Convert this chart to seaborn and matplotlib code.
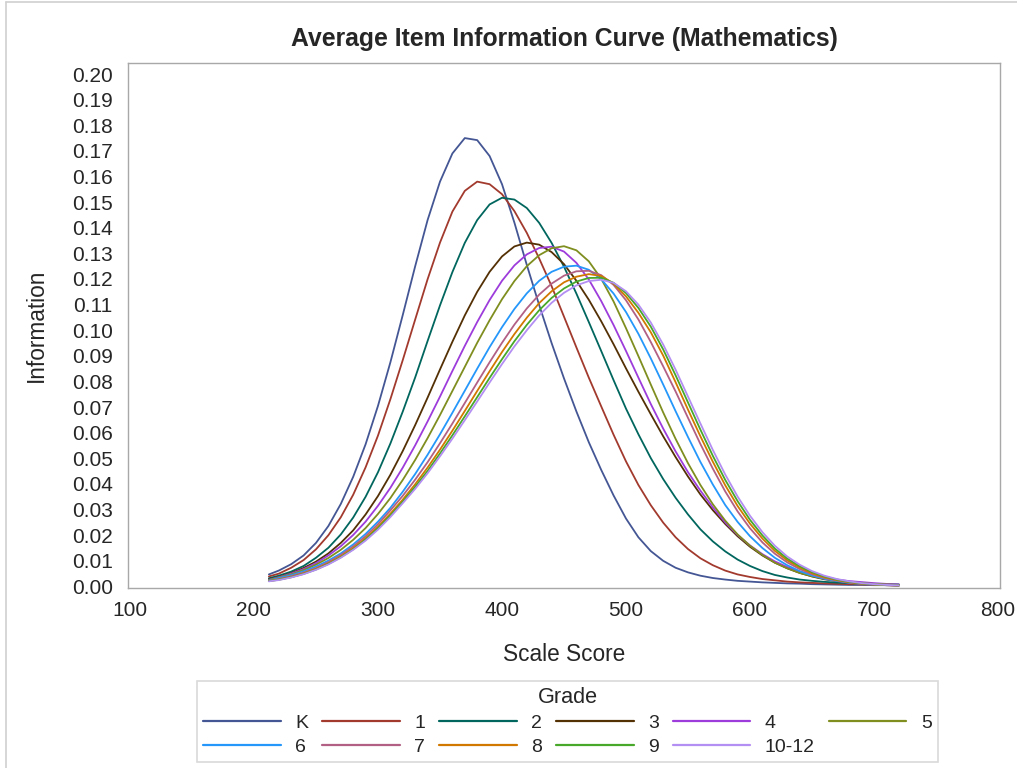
import pandas as pd
import seaborn as sns
import matplotlib.pyplot as plt
from matplotlib.lines import Line2D

# scale score grid
score = [212, 220, 230, 240, 250, 260, 270, 280, 290, 300,
         310, 320, 330, 340, 350, 360, 370, 380, 390, 400,
         410, 420, 430, 440, 450, 460, 470, 480, 490, 500,
         510, 520, 530, 540, 550, 560, 570, 580, 590, 600,
         610, 620, 630, 640, 650, 660, 670, 680, 690, 700,
         710, 720]

grades = ['K', '1', '2', '3', '4', '5', '6', '7', '8', '9', '10-12']

info_k = [0.0047, 0.0062, 0.0087, 0.0121, 0.0170, 0.0236, 0.0322, 0.0428, 0.0555, 0.0705,
          0.0875, 0.1060, 0.1250, 0.1430, 0.1580, 0.1690, 0.1750, 0.1742, 0.1680, 0.1570,
          0.1420, 0.1255, 0.1098, 0.0950, 0.0812, 0.0683, 0.0563, 0.0455, 0.0355, 0.0265,
          0.0192, 0.0138, 0.0100, 0.0073, 0.0055, 0.0042, 0.0033, 0.0027, 0.0022, 0.0019,
          0.0016, 0.0014, 0.0012, 0.0011, 0.0009, 0.0008, 0.0007, 0.0006, 0.0006, 0.0005,
          0.0005, 0.0004]
info_1 = [0.0039, 0.0050, 0.0073, 0.0103, 0.0145, 0.0200, 0.0270, 0.0358, 0.0465, 0.0589,
          0.0731, 0.0884, 0.1042, 0.1199, 0.1342, 0.1463, 0.1544, 0.1580, 0.1570, 0.1531,
          0.1465, 0.1380, 0.1280, 0.1172, 0.1053, 0.0933, 0.0815, 0.0703, 0.0592, 0.0488,
          0.0396, 0.0317, 0.0249, 0.0192, 0.0146, 0.0110, 0.0083, 0.0062, 0.0047, 0.0037,
          0.0029, 0.0024, 0.0019, 0.0016, 0.0014, 0.0012, 0.0010, 0.0009, 0.0008, 0.0007,
          0.0006, 0.0005]
info_2 = [0.0032, 0.0042, 0.0058, 0.0080, 0.0112, 0.0151, 0.0203, 0.0269, 0.0350, 0.0446,
          0.0558, 0.0683, 0.0816, 0.0958, 0.1097, 0.1227, 0.1341, 0.1430, 0.1491, 0.1517,
          0.1510, 0.1477, 0.1419, 0.1341, 0.1248, 0.1143, 0.1032, 0.0919, 0.0805, 0.0694,
          0.0594, 0.0501, 0.0419, 0.0346, 0.0281, 0.0223, 0.0176, 0.0137, 0.0105, 0.0080,
          0.0060, 0.0045, 0.0035, 0.0027, 0.0022, 0.0018, 0.0015, 0.0013, 0.0011, 0.0010,
          0.0009, 0.0008]
info_3 = [0.0028, 0.0037, 0.0052, 0.0072, 0.0097, 0.0129, 0.0170, 0.0219, 0.0281, 0.0353,
          0.0436, 0.0529, 0.0630, 0.0737, 0.0847, 0.0955, 0.1058, 0.1150, 0.1228, 0.1288,
          0.1327, 0.1342, 0.1334, 0.1305, 0.1258, 0.1193, 0.1119, 0.1035, 0.0945, 0.0851,
          0.0760, 0.0672, 0.0586, 0.0505, 0.0429, 0.0359, 0.0298, 0.0244, 0.0196, 0.0155,
          0.0121, 0.0093, 0.0071, 0.0053, 0.0039, 0.0028, 0.0021, 0.0015, 0.0011, 0.0008,
          0.0006, 0.0004]
info_4 = [0.0026, 0.0036, 0.0050, 0.0068, 0.0091, 0.0121, 0.0157, 0.0201, 0.0253, 0.0315,
          0.0385, 0.0464, 0.0551, 0.0644, 0.0741, 0.0841, 0.0939, 0.1032, 0.1118, 0.1193,
          0.1253, 0.1296, 0.1321, 0.1326, 0.1307, 0.1263, 0.1198, 0.1114, 0.1020, 0.0919,
          0.0815, 0.0712, 0.0616, 0.0527, 0.0446, 0.0374, 0.0309, 0.0250, 0.0201, 0.0160,
          0.0126, 0.0098, 0.0076, 0.0058, 0.0045, 0.0035, 0.0027, 0.0021, 0.0017, 0.0013,
          0.0010, 0.0008]
info_5 = [0.0025, 0.0035, 0.0047, 0.0064, 0.0085, 0.0111, 0.0143, 0.0182, 0.0228, 0.0283,
          0.0345, 0.0416, 0.0494, 0.0579, 0.0669, 0.0763, 0.0857, 0.0951, 0.1039, 0.1121,
          0.1192, 0.1250, 0.1293, 0.1320, 0.1328, 0.1312, 0.1269, 0.1201, 0.1112, 0.1008,
          0.0899, 0.0788, 0.0679, 0.0576, 0.0481, 0.0396, 0.0321, 0.0257, 0.0203, 0.0159,
          0.0123, 0.0093, 0.0071, 0.0053, 0.0040, 0.0030, 0.0023, 0.0017, 0.0013, 0.0010,
          0.0008, 0.0006]
info_6 = [0.0023, 0.0033, 0.0044, 0.0059, 0.0078, 0.0101, 0.0129, 0.0164, 0.0205, 0.0253,
          0.0307, 0.0370, 0.0439, 0.0514, 0.0594, 0.0678, 0.0764, 0.0850, 0.0934, 0.1012,
          0.1083, 0.1144, 0.1193, 0.1228, 0.1248, 0.1252, 0.1236, 0.1199, 0.1143, 0.1071,
          0.0986, 0.0890, 0.0788, 0.0684, 0.0583, 0.0486, 0.0398, 0.0318, 0.0252, 0.0196,
          0.0150, 0.0112, 0.0083, 0.0060, 0.0043, 0.0030, 0.0021, 0.0014, 0.0010, 0.0007,
          0.0005, 0.0004]
info_7 = [0.0022, 0.0029, 0.0040, 0.0054, 0.0072, 0.0095, 0.0123, 0.0156, 0.0196, 0.0243,
          0.0297, 0.0354, 0.0417, 0.0485, 0.0559, 0.0636, 0.0716, 0.0796, 0.0875, 0.0951,
          0.1022, 0.1085, 0.1139, 0.1182, 0.1213, 0.1230, 0.1232, 0.1215, 0.1177, 0.1117,
          0.1042, 0.0954, 0.0859, 0.0761, 0.0658, 0.0556, 0.0460, 0.0371, 0.0293, 0.0227,
          0.0172, 0.0128, 0.0094, 0.0068, 0.0048, 0.0033, 0.0023, 0.0015, 0.0010, 0.0007,
          0.0005, 0.0003]
info_8 = [0.0021, 0.0027, 0.0037, 0.0051, 0.0068, 0.0090, 0.0117, 0.0149, 0.0188, 0.0233,
          0.0284, 0.0339, 0.0399, 0.0464, 0.0534, 0.0608, 0.0685, 0.0763, 0.0840, 0.0915,
          0.0985, 0.1049, 0.1106, 0.1152, 0.1187, 0.1209, 0.1219, 0.1212, 0.1182, 0.1132,
          0.1068, 0.0992, 0.0901, 0.0797, 0.0690, 0.0586, 0.0487, 0.0395, 0.0314, 0.0245,
          0.0187, 0.0139, 0.0102, 0.0074, 0.0052, 0.0036, 0.0025, 0.0017, 0.0011, 0.0008,
          0.0005, 0.0004]
info_9 = [0.0021, 0.0026, 0.0036, 0.0049, 0.0066, 0.0088, 0.0114, 0.0145, 0.0183, 0.0227,
          0.0277, 0.0331, 0.0389, 0.0451, 0.0519, 0.0590, 0.0664, 0.0739, 0.0814, 0.0887,
          0.0957, 0.1021, 0.1078, 0.1126, 0.1163, 0.1190, 0.1204, 0.1205, 0.1185, 0.1145,
          0.1087, 0.1014, 0.0925, 0.0824, 0.0718, 0.0612, 0.0510, 0.0416, 0.0333, 0.0260,
          0.0199, 0.0148, 0.0109, 0.0079, 0.0056, 0.0039, 0.0027, 0.0018, 0.0012, 0.0008,
          0.0006, 0.0004]
info_10_12 = [0.0020, 0.0025, 0.0035, 0.0048, 0.0065, 0.0086, 0.0112, 0.0143, 0.0179, 0.0222,
              0.0271, 0.0325, 0.0381, 0.0442, 0.0508, 0.0577, 0.0649, 0.0722, 0.0796, 0.0868,
              0.0937, 0.1000, 0.1058, 0.1107, 0.1146, 0.1175, 0.1192, 0.1197, 0.1185, 0.1152,
              0.1100, 0.1030, 0.0944, 0.0846, 0.0741, 0.0636, 0.0533, 0.0437, 0.0351, 0.0276,
              0.0212, 0.0159, 0.0117, 0.0085, 0.0060, 0.0042, 0.0029, 0.0020, 0.0013, 0.0009,
              0.0006, 0.0004]

colors = ['#445694', '#A23A2E', '#01665E', '#543005', '#9D3CDB', '#7F8E1F',
          '#2597FA', '#B26084', '#D17800', '#47A82A', '#B38EF3']

series = [info_k, info_1, info_2, info_3, info_4, info_5,
          info_6, info_7, info_8, info_9, info_10_12]
df = pd.concat([pd.DataFrame({'Scale Score': score, 'Information': vals, 'Grade': g})
                for g, vals in zip(grades, series)], ignore_index=True)

sns.set_style('white')
plt.rcParams['font.family'] = ['Liberation Sans', 'DejaVu Sans']

fig = plt.figure(figsize=(10.17, 7.68), dpi=100)
ax = fig.add_axes([128 / 1017, 1 - 588 / 768, 872 / 1017, 525 / 768])

sns.lineplot(data=df, x='Scale Score', y='Information', hue='Grade', hue_order=grades,
             palette=colors, estimator=None, linewidth=1.3, ax=ax)

ax.set_xlim(98.4, 801.6)
ax.set_ylim(-0.0006, 0.2043)
ax.set_xticks(range(100, 801, 100))
ax.set_yticks([i / 100 for i in range(21)])
ax.set_yticklabels([f'{i / 100:.2f}' for i in range(21)])

for s in ax.spines.values():
    s.set_color('#a8a8a8')
    s.set_linewidth(1)
ax.tick_params(direction='out', length=7, width=1, color='#a8a8a8', labelsize=15)
ax.tick_params(axis='x', pad=2)
ax.tick_params(axis='y', pad=4)

ax.set_xlabel('Scale Score', fontsize=16.3, labelpad=17)
ax.set_ylabel('Information', fontsize=16.3, labelpad=17)
ax.set_title('Average Item Information Curve (Mathematics)', fontsize=17.8,
             fontweight='bold', pad=12)

# legend in row order K,1,2,3,4,5 / 6,7,8,9,10-12
handles, labels = ax.get_legend_handles_labels()
ax.get_legend().remove()
order = [0, 6, 1, 7, 2, 8, 3, 9, 4, 10, 5]
leg = fig.legend([handles[i] for i in order], [labels[i] for i in order],
                 ncol=6, title='Grade', loc='lower center', bbox_to_anchor=(0.558, 0.008),
                 borderaxespad=0, frameon=True, fancybox=False, edgecolor='#d0d0d0',
                 fontsize=14, title_fontsize=15.6, handlelength=4.0, handletextpad=0.75,
                 columnspacing=0.7, labelspacing=0.33, borderpad=0.3)
leg.get_frame().set_linewidth(1.2)
for line in leg.get_lines():
    line.set_linewidth(1.6)

# faint outer border on left and top
fig.add_artist(Line2D([0.006, 0.006], [0, 0.998], color='#d0d0d0', lw=1.2))
fig.add_artist(Line2D([0.006, 1], [0.998, 0.998], color='#d0d0d0', lw=1.2))

fig.savefig('out.png', dpi=100)
